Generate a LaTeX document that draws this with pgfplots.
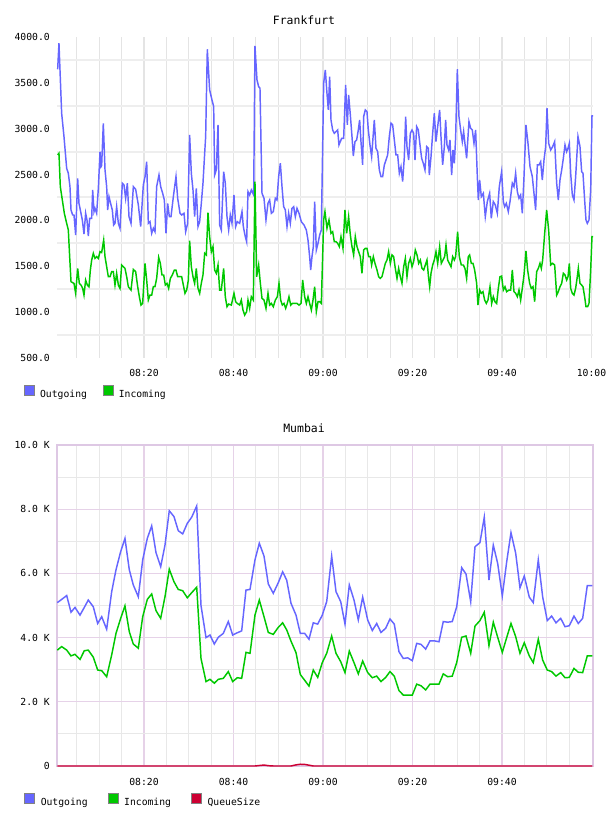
\documentclass[border=0pt]{standalone}
\usepackage{pgfplots}
\pgfplotsset{compat=1.18}
\usepackage{pgfplotstable}
\usepackage{fontspec}
\setmainfont{DejaVu Sans Mono}

\definecolor{outc}{RGB}{102,102,255}
\definecolor{inc}{RGB}{0,200,0}
\definecolor{qc}{RGB}{204,0,51}
\definecolor{gridv}{RGB}{228,228,228}
\definecolor{gridh}{RGB}{238,238,238}
\definecolor{gridp}{RGB}{230,210,232}
\definecolor{gridg}{RGB}{232,232,232}
\definecolor{borderp}{RGB}{222,200,228}
\definecolor{legbord}{RGB}{130,130,130}

% Frankfurt, minutes after 08:00
\pgfplotstableread{
t v
0.71 3648
1.00 3932
1.60 3168
2.12 2914
2.72 2568
3.09 2514
3.46 2368
3.69 2114
4.06 2059
4.36 2059
4.73 1841
5.18 2459
5.47 2186
5.85 2096
6.22 2005
6.59 1852
6.96 2078
7.26 2005
7.56 1830
7.86 2023
8.31 2023
8.53 2332
8.83 2096
9.05 2132
9.42 2078
9.80 2350
10.17 2750
10.39 2586
10.54 2600
10.91 3059
11.29 2550
11.66 2368
11.88 2114
12.18 2259
12.63 2168
12.92 2114
13.22 1950
13.52 1968
13.89 2150
14.27 1968
14.64 1914
15.16 2405
15.53 2386
15.90 2241
16.28 2405
16.65 2041
17.10 1968
17.62 2368
18.14 2339
18.74 2168
19.26 1932
19.85 2386
20.23 2477
20.60 2641
20.97 1968
21.34 1986
21.72 1859
22.09 1914
22.46 1877
22.83 2368
23.35 2495
23.73 2368
24.17 2296
24.55 2223
24.92 1859
25.29 2186
25.66 2041
26.04 2041
26.56 2259
27.15 2477
27.53 2241
28.05 2078
28.42 2059
28.94 2078
29.31 1877
29.76 1968
30.20 2932
30.58 2514
30.95 2332
31.32 2041
31.69 2350
32.07 1932
32.44 1986
32.81 2186
33.18 2405
33.56 2732
33.78 2914
34.15 3866
34.67 3423
35.19 3314
35.57 3241
35.79 2495
36.16 2550
36.54 3041
36.91 1950
37.28 1895
37.80 2532
38.17 2405
38.55 2041
38.92 1895
39.29 2059
39.66 1968
40.11 2277
40.48 1932
40.86 1986
41.38 1968
41.90 2096
42.20 1932
42.64 1823
42.94 1768
43.24 2314
43.61 2277
43.99 2332
44.51 2277
44.80 3903
45.25 3532
45.62 3459
45.92 3441
46.37 2296
46.82 2241
47.26 2005
47.71 2186
48.08 2223
48.46 2078
48.90 2096
49.35 2241
49.72 2223
50.09 2477
50.47 2623
50.84 2368
51.21 2150
51.58 2114
51.96 1932
52.33 2078
52.70 1968
53.07 2132
53.45 2150
53.82 2041
54.19 2132
54.64 2078
55.16 1986
55.76 1950
56.28 1895
56.65 1786
57.02 1604
57.25 1459
57.54 1604
57.84 1714
58.14 2205
58.51 1677
58.89 1750
59.26 1841
59.63 1895
60.15 3495
60.52 3641
60.89 3386
61.19 3205
61.49 3568
61.79 3095
62.16 2986
62.53 2950
62.90 2968
63.28 2986
63.57 2823
63.87 2859
64.17 2895
64.62 2895
65.06 3477
65.44 3041
65.73 3368
66.11 3150
66.48 2914
66.78 2703
67.15 2859
67.52 2877
67.89 2986
68.19 3095
68.49 2859
68.86 2605
69.09 3132
69.46 3205
69.83 3186
70.13 2986
70.50 2823
70.87 2695
71.25 2950
71.47 3095
71.84 2786
72.22 2750
72.59 2550
72.96 2477
73.33 2477
73.71 2605
74.08 2659
74.45 2714
74.82 2914
75.20 3059
75.57 3041
75.94 2877
76.31 2714
76.69 2714
77.06 2514
77.43 2586
77.80 2423
78.18 2695
78.47 3132
78.77 2804
79.14 2659
79.52 2950
79.89 2986
80.26 2950
80.56 2659
80.93 3023
81.30 2986
81.68 2823
82.05 2677
82.42 2623
82.79 2550
83.17 2804
83.54 2786
83.76 2495
84.14 2695
84.51 2950
84.88 3168
85.25 2859
85.63 3023
86.07 3205
86.37 2914
86.74 2605
87.12 2804
87.41 3095
87.71 2823
88.08 2768
88.38 2877
88.75 2495
89.05 2768
89.35 2623
89.64 2900
90.02 3648
90.39 3132
90.76 2986
91.13 2859
91.43 2968
91.80 2804
92.10 2677
92.62 3077
93.00 3005
93.37 2986
93.74 2841
94.11 2986
94.49 2477
94.71 2223
95.01 2441
95.38 2259
95.83 2296
96.27 2041
96.72 2205
97.24 2296
97.61 2023
98.06 2205
98.51 2168
98.96 2078
99.40 2368
99.92 2532
100.30 2205
100.59 2150
100.97 2186
101.41 2096
101.79 2205
102.31 2405
102.68 2368
103.05 2514
103.43 2314
103.80 2241
104.17 2277
104.54 2078
104.92 2477
105.36 3041
105.81 2841
106.26 2586
106.78 2477
107.15 2296
107.52 2114
107.90 2605
108.27 2605
108.64 2641
109.01 2441
109.39 2659
109.76 2804
110.06 3223
110.43 2841
110.88 2768
111.32 2804
111.77 2859
112.22 2405
112.59 2223
112.96 2441
113.34 2550
113.71 2677
114.08 2823
114.45 2750
114.75 2786
115.05 2841
115.35 2514
115.72 2277
116.09 2223
116.46 2477
116.98 2914
117.43 2804
117.80 2532
118.10 2514
118.47 2223
118.77 2005
119.07 1968
119.44 2005
119.82 2332
120.11 3139
120.34 3139
}\frOut

\pgfplotstableread{
t v
0.71 2714
1.00 2732
1.30 2368
1.75 2223
2.20 2077
2.72 1968
3.09 1896
3.39 1605
3.69 1332
4.06 1321
4.36 1314
4.73 1205
5.18 1477
5.55 1314
5.92 1295
6.29 1259
6.59 1186
6.96 1350
7.34 1295
7.71 1277
8.01 1459
8.31 1568
8.68 1641
9.05 1586
9.42 1605
9.80 1586
10.17 1659
10.54 1650
10.99 1786
11.29 1605
11.66 1495
12.03 1386
12.40 1386
12.78 1441
13.15 1441
13.52 1295
13.89 1423
14.27 1295
14.64 1259
15.01 1514
15.38 1495
15.75 1477
16.13 1386
16.50 1277
17.10 1241
17.62 1466
18.14 1441
18.59 1277
18.96 1168
19.33 1077
19.70 1095
20.23 1532
20.60 1350
20.97 1132
21.34 1186
21.72 1186
22.09 1277
22.46 1277
22.83 1368
23.28 1597
23.65 1532
24.02 1405
24.40 1405
24.77 1295
25.14 1314
25.51 1259
25.89 1368
26.33 1405
26.78 1459
27.15 1459
27.53 1386
27.97 1386
28.42 1386
28.79 1295
29.16 1205
29.54 1241
29.91 1350
30.20 1780
30.58 1495
30.95 1386
31.32 1314
31.69 1477
32.07 1259
32.44 1205
32.81 1314
33.18 1405
33.56 1641
33.93 1623
34.30 2085
34.67 1823
35.05 1659
35.42 1714
35.79 1459
36.16 1423
36.54 1514
36.91 1241
37.28 1241
37.80 1477
38.17 1168
38.55 1059
38.92 1088
39.52 1077
40.11 1205
40.48 1114
40.86 1095
41.38 1077
41.75 1132
42.12 1023
42.50 968
42.94 1005
43.24 1132
43.61 1041
43.99 1168
44.43 1132
44.80 2423
45.18 1386
45.62 1514
46.00 1314
46.37 1150
46.82 1132
47.26 1041
47.71 1205
48.08 1077
48.46 1095
48.90 1059
49.35 1132
49.80 1168
50.17 1314
50.54 1132
50.91 1077
51.29 1095
51.66 1041
52.03 1095
52.40 1168
52.78 1077
53.15 1095
53.67 1095
54.19 1095
54.64 1077
55.09 1095
55.46 1350
55.91 1168
56.28 1095
56.65 1168
57.02 1095
57.40 1023
57.77 1132
58.14 1277
58.51 1005
58.89 1114
59.26 1114
59.63 1095
60.15 2005
60.44 2096
60.89 1914
61.34 2005
61.79 1859
62.16 1877
62.53 1768
62.90 1768
63.28 1750
63.65 1714
64.02 1823
64.47 1695
64.91 2114
65.29 1859
65.73 2041
66.11 1841
66.48 1714
66.85 1623
67.22 1823
67.60 1714
67.97 1659
68.34 1605
68.71 1423
69.09 1677
69.46 1695
69.83 1695
70.20 1605
70.58 1605
70.87 1514
71.25 1605
71.62 1532
72.07 1459
72.44 1386
72.81 1368
73.18 1386
73.56 1459
73.93 1532
74.30 1568
74.67 1659
75.05 1532
75.42 1623
75.79 1605
76.16 1477
76.54 1368
76.91 1477
77.28 1386
77.65 1314
78.03 1495
78.40 1586
78.77 1386
79.14 1532
79.52 1586
79.89 1495
80.26 1550
80.63 1677
81.01 1623
81.38 1532
81.75 1568
82.12 1477
82.50 1459
82.87 1514
83.24 1568
83.61 1368
83.84 1277
84.14 1423
84.51 1514
84.88 1568
85.25 1659
85.63 1532
86.07 1714
86.44 1532
86.82 1568
87.19 1605
87.49 1732
87.86 1568
88.23 1532
88.61 1495
88.98 1605
89.35 1568
89.64 1605
90.09 1877
90.46 1605
90.91 1514
91.36 1514
91.73 1477
92.10 1368
92.47 1605
92.77 1623
93.14 1532
93.52 1532
93.89 1459
94.34 1314
94.63 1077
95.01 1241
95.38 1205
95.75 1223
96.12 1132
96.50 1095
96.87 1132
97.32 1277
97.69 1095
98.06 1168
98.43 1114
98.81 1095
99.18 1259
99.55 1386
99.92 1393
100.30 1241
100.67 1277
101.04 1223
101.56 1241
101.94 1241
102.31 1459
102.68 1223
103.05 1205
103.43 1168
103.80 1241
104.17 1132
104.54 1259
104.92 1405
105.36 1666
105.73 1459
106.18 1314
106.55 1259
106.93 1277
107.30 1114
107.75 1441
108.12 1477
108.49 1532
108.79 1477
109.09 1568
109.54 1859
109.98 2114
110.43 1895
110.88 1514
111.32 1532
111.77 1514
112.22 1186
112.59 1223
112.96 1277
113.34 1314
113.71 1423
114.08 1405
114.45 1350
114.75 1386
115.05 1532
115.35 1259
115.72 1205
116.09 1186
116.46 1259
116.83 1386
117.06 1477
117.43 1314
117.80 1295
118.10 1277
118.47 1168
118.77 1059
119.14 1059
119.44 1095
119.82 1459
120.11 1823
120.34 1823
}\frIn

% Mumbai, minutes after 08:00
\pgfplotstableread{
t out in
0.63 5090 3610
1.61 5190 3720
2.73 5310 3610
3.69 4790 3430
4.58 4940 3480
5.70 4700 3320
6.66 4940 3590
7.55 5170 3610
8.67 4960 3390
9.65 4440 2990
10.55 4650 2970
11.66 4260 2780
12.78 5430 3460
13.74 6110 4130
14.79 6680 4600
15.75 7090 4990
16.72 6110 4180
17.61 5640 3800
18.73 5270 3670
19.71 6420 4650
20.74 7090 5190
21.72 7480 5360
22.68 6650 4840
23.73 6210 4600
24.69 6880 5270
25.65 7950 6130
26.70 7770 5740
27.66 7330 5500
28.65 7230 5460
29.68 7560 5240
30.66 7750 5400
31.78 8100 5570
32.74 5000 3350
33.86 4000 2630
34.75 4080 2700
35.71 3800 2580
36.60 4010 2700
37.72 4130 2730
38.84 4500 2940
39.82 4080 2630
40.85 4150 2750
41.83 4210 2730
42.79 5480 3540
43.69 5500 3510
44.80 6420 4700
45.77 6940 5170
46.82 6540 4650
47.78 5670 4160
48.89 5380 4100
50.01 5710 4320
50.99 6050 4460
51.89 5790 4240
52.85 5070 3890
53.97 4700 3530
54.93 4130 2850
55.91 4130 2670
56.87 3950 2490
57.83 4460 2990
58.82 4420 2760
59.84 4700 3220
60.83 5120 3510
61.94 6540 4050
62.91 5430 3510
63.96 5120 3250
64.92 4420 2910
65.88 5640 3580
66.93 5170 3220
67.89 4550 2870
68.87 5260 3270
69.99 4550 2910
71.02 4220 2750
72.00 4440 2800
72.96 4160 2630
74.01 4290 2760
74.97 4580 2940
75.93 4420 2800
76.98 3560 2350
77.94 3350 2210
78.93 3370 2210
79.96 3280 2210
80.94 3820 2550
81.90 3790 2500
82.95 3640 2370
83.91 3900 2550
84.87 3900 2550
85.92 3870 2550
86.88 4500 2870
87.87 4480 2780
88.89 4500 2800
89.88 4960 3220
90.99 6180 4010
91.96 5980 4050
93.01 5120 3510
93.97 6830 4360
95.08 6960 4530
96.04 7750 4790
97.09 5790 3750
98.06 6880 4480
99.04 6310 4010
100.07 5300 3540
101.05 6360 4000
102.01 7270 4440
103.06 6630 4030
104.02 5550 3510
104.98 5920 3840
106.10 5260 3430
106.99 5090 3220
108.11 6420 3950
109.09 5270 3300
110.12 4530 2990
111.10 4670 2940
112.07 4460 2800
113.12 4600 2910
114.08 4340 2750
115.04 4370 2760
116.09 4670 3040
117.05 4440 2920
118.03 4600 2910
119.06 5620 3430
120.18 5620 3430
}\muData

\pgfplotstableread{
t q
0.63 0
44.80 0
45.77 15
46.82 30
47.78 10
48.89 0
52.85 0
53.97 35
54.93 55
55.91 50
56.87 25
57.83 0
120.18 0
}\muQueue

\pgfplotsset{
  every axis/.append style={
    scale only axis, width=402pt, height=240.75pt,
    xmin=0.56, xmax=120.34,
    clip=false,
    scaled y ticks=false, scaled x ticks=false,
    major tick length=0pt, minor tick length=0pt,
    tick label style={font=\fontsize{7.3}{8}\selectfont},
    yticklabel style={anchor=east, inner sep=0pt, xshift=-5.25pt},
    xticklabel style={anchor=base, inner sep=0pt},
    legend cell align=left,
    legend image code/.code={%
      \draw[#1, fill, draw=legbord, line width=0.6pt] (0pt,-0.4pt) rectangle (7.5pt,7.1pt);},
  },
}

\begin{document}
\begin{tikzpicture}
\path[use as bounding box] (0pt,0pt) rectangle (456pt,612pt);

\node[font=\fontsize{8.6}{10}\selectfont] at (228pt,597pt) {Frankfurt};
\node[font=\fontsize{8.6}{10}\selectfont] at (228pt,291pt) {Mumbai};

% Frankfurt
\begin{axis}[
  at={(42.75pt,343.5pt)}, anchor=south west,
  ymin=500, ymax=4000,
  ytick={500,1000,...,4000},
  yticklabels={500.0,1000.0,1500.0,2000.0,2500.0,3000.0,3500.0,4000.0},
  minor ytick={750,1250,...,3750},
  yminorgrids, minor y grid style={draw=gridh, line width=1.5pt},
  xtick={20,40,60,80,100,120},
  xticklabels={08:20,08:40,09:00,09:20,09:40,10:00},
  minor xtick={5,10,15,25,30,35,45,50,55,65,70,75,85,90,95,105,110,115},
  xmajorgrids, xminorgrids,
  major x grid style={draw=gridv, line width=0.8pt},
  minor x grid style={draw=gridv, line width=0.8pt},
  xticklabel style={yshift=-13.9pt},
  axis line style={draw=none},
  legend columns=-1,
  legend style={at={(-0.0616,-0.1059)}, anchor=west, draw=none, fill=none,
    inner sep=0pt, font=\fontsize{7.3}{8}\selectfont,
    nodes={inner sep=0pt},
    /tikz/every odd column/.append style={column sep=3.8pt},
    /tikz/every even column/.append style={column sep=12pt}},
]
\addplot[color=outc, line width=1.1pt] table[x=t, y=v] {\frOut};
\addlegendentry{Outgoing}
\addplot[color=inc, line width=1.1pt] table[x=t, y=v] {\frIn};
\addlegendentry{Incoming}
\end{axis}

% Mumbai
\begin{axis}[
  at={(42.75pt,37.5pt)}, anchor=south west,
  ymin=0, ymax=10000,
  ytick={0,2000,...,10000},
  yticklabels={0,2.0 K,4.0 K,6.0 K,8.0 K,10.0 K},
  minor ytick={1000,3000,...,9000},
  ymajorgrids, yminorgrids,
  major y grid style={draw=gridp, line width=0.8pt},
  minor y grid style={draw=gridg, line width=0.8pt},
  xtick={20,40,60,80,100},
  xticklabels={08:20,08:40,09:00,09:20,09:40},
  minor xtick={5,10,15,25,30,35,45,50,55,65,70,75,85,90,95,105,110,115},
  xmajorgrids, xminorgrids,
  major x grid style={draw=gridp, line width=0.8pt},
  minor x grid style={draw=gridg, line width=0.8pt},
  xticklabel style={yshift=-14.6pt},
  axis line style={draw=borderp, line width=0.8pt},
  legend columns=-1,
  legend style={at={(-0.0616,-0.1059)}, anchor=west, draw=none, fill=none,
    inner sep=0pt, font=\fontsize{7.3}{8}\selectfont,
    nodes={inner sep=0pt},
    /tikz/every odd column/.append style={column sep=4.3pt},
    /tikz/every even column/.append style={column sep=15pt}},
]
\addplot[color=outc, line width=1.1pt] table[x=t, y=out] {\muData};
\addlegendentry{Outgoing}
\addplot[color=inc, line width=1.1pt] table[x=t, y=in] {\muData};
\addlegendentry{Incoming}
\addplot[color=qc, line width=1.1pt] table[x=t, y=q] {\muQueue};
\addlegendentry{QueueSize}
\end{axis}
\end{tikzpicture}
\end{document}
